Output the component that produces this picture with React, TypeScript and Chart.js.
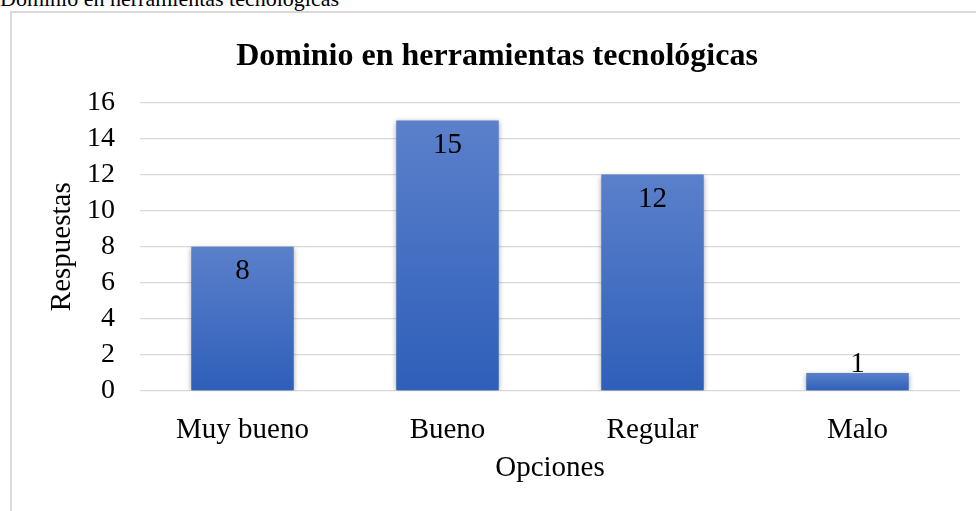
import React, { useEffect, useRef } from "react";
import { Chart, registerables } from "chart.js";
Chart.register(...registerables);

const categories = ["Muy bueno", "Bueno", "Regular", "Malo"];
const values = [8, 15, 12, 1];
const yMin = 0;
const yMax = 16;
const yStep = 2;
const pageCaption = "Dominio en herramientas tecnológicas";
const chartTitle = "Dominio en herramientas tecnológicas";
const xTitle = "Opciones";
const yTitle = "Respuestas";

const FONT = "'Liberation Serif', 'Times New Roman', serif";
const FS = 29;

export default function App() {
  const ref = useRef<HTMLCanvasElement | null>(null);
  useEffect(() => {
    if (!ref.current) return;
    const labelPlugin = {
      id: "barLabels",
      beforeDatasetsDraw(chart: any) {
        const ctx = chart.ctx;
        ctx.save();
        ctx.shadowColor = "rgba(0,0,0,0.35)";
        ctx.shadowBlur = 5;
        ctx.shadowOffsetX = 0;
        ctx.shadowOffsetY = 1;
      },
      afterDatasetsDraw(chart: any) {
        const ctx = chart.ctx;
        ctx.restore();
        ctx.save();
        ctx.font = `${FS}px ${FONT}`;
        ctx.fillStyle = "#000";
        ctx.textAlign = "center";
        ctx.textBaseline = "middle";
        const meta = chart.getDatasetMeta(0);
        meta.data.forEach((bar: any, i: number) => {
          const cy = Math.min(bar.y + 25, bar.base - 26);
          ctx.fillText(String(values[i]), bar.x, cy);
        });
        ctx.restore();
      },
    };
    const chart = new Chart(ref.current, {
      type: "bar",
      data: {
        labels: categories,
        datasets: [
          {
            data: values,
            barPercentage: 0.5,
            categoryPercentage: 1,
            backgroundColor: (c: any) => {
              const ch = c.chart;
              const ys = ch.scales?.y;
              if (!ys || c.raw === undefined) return "#3a68c0";
              const top = ys.getPixelForValue(c.raw);
              const base = ys.getPixelForValue(0);
              if (!isFinite(top) || !isFinite(base) || top === base) return "#3a68c0";
              const g = ch.ctx.createLinearGradient(0, top, 0, base);
              g.addColorStop(0, "#5b80cb");
              g.addColorStop(1, "#2e5fb9");
              return g;
            },
            borderWidth: 0,
          },
        ],
      },
      options: {
        animation: false,
        responsive: false,
        maintainAspectRatio: false,
        layout: { padding: { left: 0, right: 0, top: 0, bottom: 0 } },
        plugins: {
          legend: { display: false },
          tooltip: { enabled: false },
          title: {
            display: true,
            text: chartTitle,
            color: "#000",
            font: { family: FONT, size: 32, weight: "bold" },
            padding: { top: 25, bottom: 26 },
          },
        },
        scales: {
          x: {
            grid: { display: false, drawTicks: false },
            border: { display: false },
            ticks: { color: "#000", font: { family: FONT, size: FS }, padding: 22, autoSkip: false, maxRotation: 0 },
            title: {
              display: true,
              text: xTitle,
              color: "#000",
              font: { family: FONT, size: FS },
              padding: { top: 0, bottom: 25 },
            },
            afterFit(scale: any) {
              scale.height = 120;
            },
          },
          y: {
            min: yMin,
            max: yMax,
            grid: { color: "#d9d9d9", lineWidth: 1.3, drawTicks: false },
            border: { display: false },
            ticks: {
              stepSize: yStep,
              autoSkip: false,
              color: "#000",
              font: { family: FONT, size: 28 },
              padding: 25,
            },
            title: {
              display: true,
              text: yTitle,
              color: "#000",
              font: { family: FONT, size: FS },
              padding: { top: 33, bottom: 0 },
            },
            afterFit(scale: any) {
              scale.width = 128;
            },
          },
          spacer: {
            type: "linear",
            position: "right",
            display: true,
            grid: { display: false, drawTicks: false },
            border: { display: false },
            ticks: { display: false },
            afterFit(scale: any) {
              scale.width = 22;
            },
          },
        },
      },
      plugins: [labelPlugin],
    } as any);
    return () => chart.destroy();
  }, []);

  return (
    <div
      style={{
        position: "fixed",
        left: 0,
        top: 0,
        width: 976,
        height: 511,
        overflow: "hidden",
        background: "#fff",
      }}
    >
      <div
        style={{
          position: "absolute",
          left: 0,
          top: -12,
          font: `22px ${FONT}`,
          lineHeight: "22px",
          color: "#000",
          whiteSpace: "nowrap",
        }}
      >
        {pageCaption}
      </div>
      <div
        style={{
          position: "absolute",
          left: 10,
          top: 11,
          width: 990,
          height: 520,
          border: "2px solid #d9d9d9",
          boxSizing: "border-box",
        }}
      />
      <canvas
        ref={ref}
        width={970}
        height={498}
        style={{ position: "absolute", left: 12, top: 13, width: 970, height: 498 }}
      />
    </div>
  );
}
